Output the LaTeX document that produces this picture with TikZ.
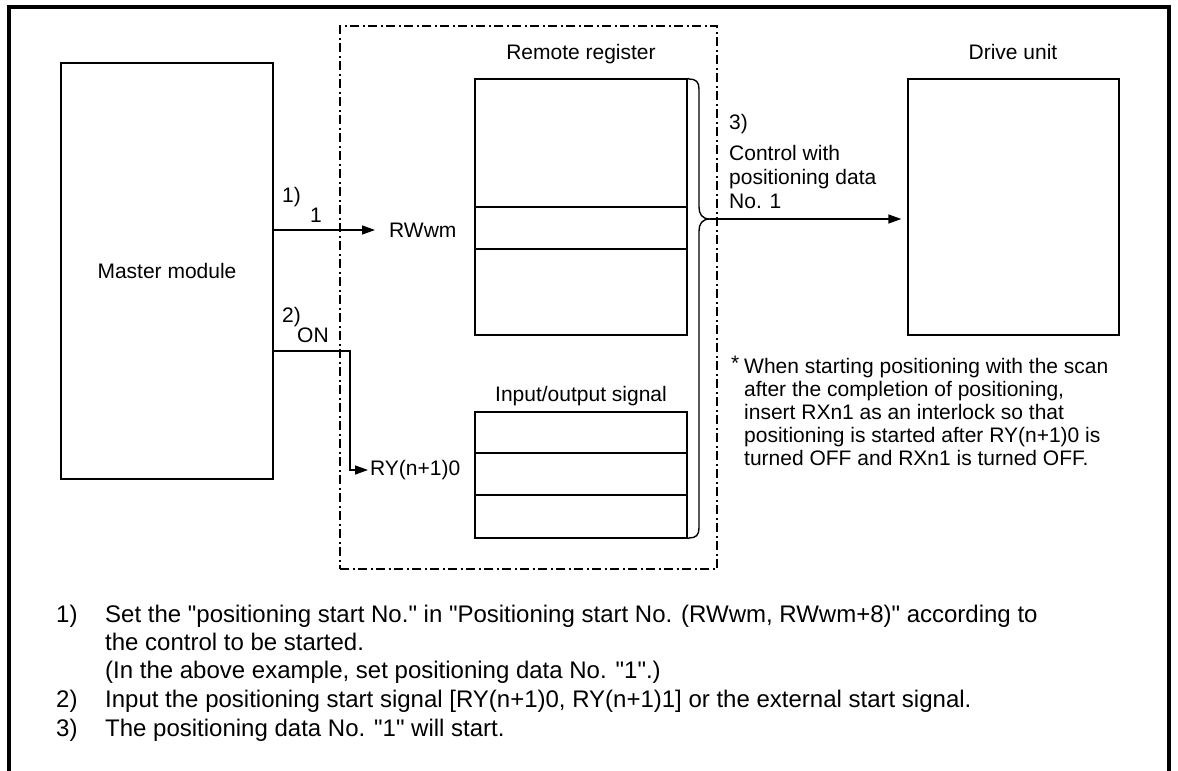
\documentclass[tikz,border=0pt]{standalone}
\usepackage{fontspec}
\setmainfont{Liberation Sans}[Ligatures=TeXOff]
\usetikzlibrary{arrows.meta}
\begin{document}
\begin{tikzpicture}[x=1pt,y=-1pt,
  box/.style={draw, line width=1.4pt, inner sep=0pt},
  rule/.style={line width=1.4pt},
  lbl/.style={font=\fontsize{21}{24}\selectfont, inner sep=0pt},
  txt/.style={font=\fontsize{24}{28}\selectfont, inner sep=0pt, anchor=base west},
  arr/.style={line width=1.4pt, -{Triangle[length=13pt,width=9pt]}},
  dashdot/.style={line width=1.5pt, dash pattern=on 9pt off 3.5pt on 2pt off 3.5pt}
]
\useasboundingbox (0,0) rectangle (1178,771);
% outer frame
\draw[line width=4pt, line join=miter] (9,771) -- (9,7) -- (1169,7) -- (1169,771);

% group (dash-dot)
\node[draw, dashdot, minimum width=377pt, minimum height=543pt, inner sep=0pt] (group) at (528.5,297.5) {};

% boxes
\node[box, lbl, minimum width=212pt, minimum height=416pt] (master) at (167,271) {Master module};
\node[box, minimum width=212pt, minimum height=256pt] (rr) at (581,207) {};
\node[box, minimum width=211pt, minimum height=256pt] (drive) at (1013.5,207) {};
\node[box, minimum width=212pt, minimum height=126pt] (io) at (581,475) {};

\draw[rule] (rr.west |- 0,207) -- (rr.east |- 0,207);
\draw[rule] (rr.west |- 0,249) -- (rr.east |- 0,249);
\draw[rule] (io.west |- 0,453) -- (io.east |- 0,453);
\draw[rule] (io.west |- 0,495) -- (io.east |- 0,495);

% titles
\node[lbl, anchor=base] (rrl) at (581,59) {Remote register};
\node[lbl, anchor=base] (dul) at (1013,59) {Drive unit};
\node[lbl, anchor=base] (iol) at (581,401) {Input/output signal};

% step 1
\node[lbl, anchor=west, inner xsep=14pt] (rwwm) at (375,230) {RWwm};
\draw[arr] (master.east |- 0,230) -- (rwwm.west);
\node[lbl, anchor=base west] (s1) at (282,202) {1)};
\node[lbl, anchor=base west] (v1) at (310,222) {1};

% step 2
\node[lbl, anchor=west, inner xsep=2pt] (ry) at (368,470) {RY(n+1)0};
\draw[arr] (master.east |- 0,351) -- (350,351) |- (ry.west);
\node[lbl, anchor=base west] (s2) at (282,322) {2)};
\node[lbl, anchor=base west] (on) at (297,342) {ON};

% brace and step 3
\coordinate (tip) at (710,219);
\draw[rule] (rr.north east) -- (689,79) .. controls (696,79) and (699,82) .. (699,89)
  -- (699,207) .. controls (699,214) and (702,219) .. (tip)
  .. controls (702,219) and (699,224) .. (699,231)
  -- (699,528) .. controls (699,535) and (696,538) .. (689,538) -- (io.south east);
\draw[arr, shorten >=6pt] (tip) -- (drive.west |- tip);
\node[lbl, anchor=base west] (s3) at (729,129) {3)};
\node[lbl, anchor=base west] (c1) at (729,160) {Control with};
\node[lbl, anchor=base west] (c2) at (729,184) {positioning data};
\node[lbl, anchor=base west] (c3) at (729,208) {No. 1};

% note
\node[lbl, anchor=base west] (star) at (731,370) {*};
\node[lbl, anchor=base west] (n1) at (744,373) {When starting positioning with the scan};
\node[lbl, anchor=base west] (n2) at (744,396) {after the completion of positioning,};
\node[lbl, anchor=base west] (n3) at (744,419) {insert RXn1 as an interlock so that};
\node[lbl, anchor=base west] (n4) at (744,442) {positioning is started after RY(n+1)0 is};
\node[lbl, anchor=base west] (n5) at (744,465) {turned OFF and RXn1 is turned OFF.};

% bottom text
\node[txt] (b1n) at (56,622) {1)};
\node[txt] (b1) at (105,622) {Set the "positioning start No." in "Positioning start No. (RWwm, RWwm+8)" according to};
\node[txt] (b1b) at (105,650) {the control to be started.};
\node[txt] (b1c) at (105,678) {(In the above example, set positioning data No. "1".)};
\node[txt] (b2n) at (56,707) {2)};
\node[txt] (b2) at (105,707) {Input the positioning start signal [RY(n+1)0, RY(n+1)1] or the external start signal.};
\node[txt] (b3n) at (56,736) {3)};
\node[txt] (b3) at (105,736) {The positioning data No. "1" will start.};
\end{tikzpicture}
\end{document}
